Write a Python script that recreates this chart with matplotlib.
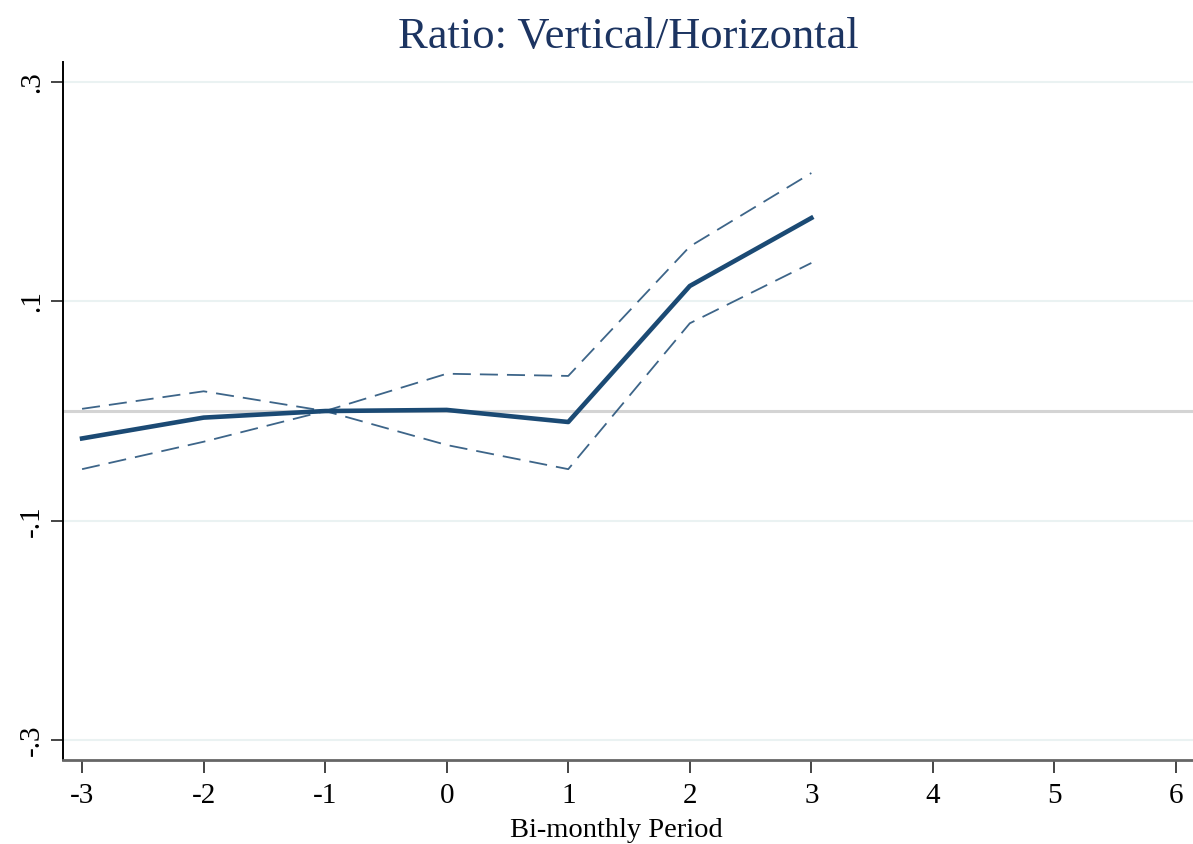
import numpy as np
import matplotlib
matplotlib.use("Agg")
import matplotlib.pyplot as plt

# --- Data ---
periods = [-3, -2, -1, 0, 1, 2, 3]
estimate = [-0.025, -0.006, 0.0, 0.001, -0.010, 0.114, 0.176]
upper_ci = [0.002, 0.018, 0.0, 0.034, 0.032, 0.150, 0.217]
lower_ci = [-0.053, -0.028, 0.0, -0.031, -0.053, 0.080, 0.135]

x_ticks = [-3, -2, -1, 0, 1, 2, 3, 4, 5, 6]
y_ticks = [-0.3, -0.1, 0.1, 0.3]
y_tick_labels = ["-.3", "-.1", ".1", ".3"]

LINE_COLOR = "#1b4a74"
TITLE_COLOR = "#1c3461"

plt.rcParams['font.family'] = ['Liberation Serif', 'DejaVu Serif']

fig = plt.figure(figsize=(11.93, 8.44), dpi=100)
ax = fig.add_axes([0.0526, 0.0995, 0.9474, 0.827])

# grid and zero line
for yv in y_ticks:
    ax.axhline(yv, color="#eaf2f2", lw=1.5, zorder=0)
ax.axhline(0, color="#d4d4d4", lw=2.2, zorder=1)

ax.plot(periods, upper_ci, color=LINE_COLOR, lw=1.3, ls=(0, (10, 5)), alpha=0.85, zorder=2)
ax.plot(periods, lower_ci, color=LINE_COLOR, lw=1.3, ls=(0, (10, 5)), alpha=0.85, zorder=2)
ax.plot(periods, estimate, color=LINE_COLOR, lw=3.3, zorder=3)

ax.set_xlim(-3.159, 6.14)
ax.set_ylim(-0.3182, 0.3182)

ax.set_xticks(x_ticks)
ax.set_xticklabels([str(v) for v in x_ticks])
ax.set_yticks(y_ticks)
ax.set_yticklabels(y_tick_labels, rotation=90, va="center")

ax.tick_params(axis="both", direction="out", length=9, width=1.4, color="#444444",
               labelsize=21)
ax.tick_params(axis="x", pad=7.5)
ax.tick_params(axis="y", pad=4)

for side in ["top", "right"]:
    ax.spines[side].set_visible(False)
ax.spines["left"].set_linewidth(1.4)
ax.spines["bottom"].set_linewidth(2.0)
ax.spines["bottom"].set_color("#666666")

# x label placed by its baseline, as in the reference
fig.text(0.5163, 0.008, "Bi-monthly Period", fontsize=20.5, ha="center", va="baseline")
ax.set_title("Ratio: Vertical/Horizontal", fontsize=32, color=TITLE_COLOR, pad=10)

fig.savefig("out.png", dpi=100, facecolor="white")
